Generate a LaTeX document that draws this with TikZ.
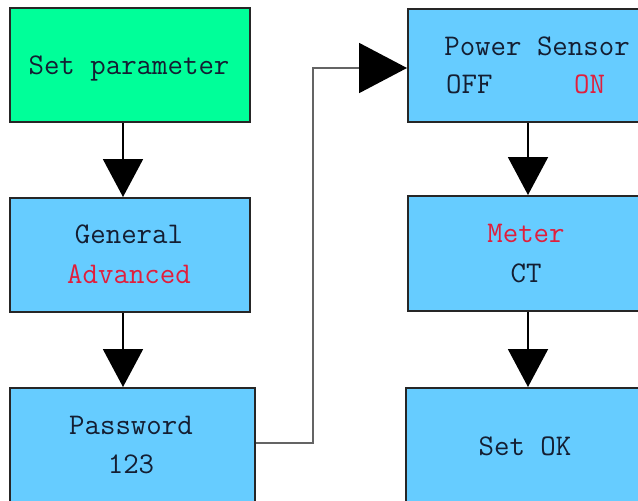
\documentclass[tikz,border=0pt]{standalone}
\usetikzlibrary{arrows.meta}
\definecolor{boxgreen}{RGB}{0,255,153}
\definecolor{boxblue}{RGB}{102,204,255}
\definecolor{txtdark}{RGB}{20,30,50}
\definecolor{txtred}{RGB}{225,30,60}
\definecolor{edgegray}{RGB}{100,100,100}
\begin{document}
\begin{tikzpicture}[x=1pt,y=-1pt,
  box/.style={draw=black!85, line width=2pt, rectangle, anchor=north west, inner sep=0pt, fill=boxblue},
  lbl/.style={anchor=base, inner sep=0pt, text=txtdark, font=\fontsize{30}{40}\selectfont\ttfamily},
  conn/.style={draw=black, line width=2pt, -{Triangle[width=40pt,length=38pt]}},
  elbowconn/.style={draw=edgegray, line width=2pt, -{Triangle[width=50pt,length=48pt,color=black]}}]
\useasboundingbox (0,0) rectangle (638,501);
\clip (0,0) rectangle (638,501);
% boxes
\node[box, fill=boxgreen, minimum width=240pt, minimum height=114pt] (b1) at (9,7) {};
\node[box, minimum width=240pt, minimum height=114pt] (b2) at (9,197) {};
\node[box, minimum width=245pt, minimum height=116pt] (b3) at (9,387) {};
\node[box, minimum width=240pt, minimum height=113pt] (b4) at (407,8) {};
\node[box, minimum width=240pt, minimum height=115pt] (b5) at (407,195) {};
\node[box, minimum width=242pt, minimum height=116pt] (b6) at (405,387) {};
% texts
\node[lbl] (t1) at (129,74) {Set parameter};
\node[lbl] (t2a) at (129,243) {General};
\node[lbl, text=txtred] (t2b) at (129,283) {Advanced};
\node[lbl] (t3a) at (131,434) {Password};
\node[lbl] (t3b) at (131,473) {123};
\node[lbl] (t4a) at (537,55) {Power Sensor};
\node[lbl, anchor=base west] (t4b) at (446,93) {OFF};
\node[lbl, anchor=base west, text=txtred] (t4c) at (574,93) {ON};
\node[lbl, text=txtred] (t5a) at (526,242) {Meter};
\node[lbl] (t5b) at (526,282) {CT};
\node[lbl] (t6) at (525,455) {Set OK};
% connectors
\draw[conn] ([xshift=114pt]b1.south west) -- ([xshift=114pt]b2.north west);
\draw[conn] ([xshift=114pt]b2.south west) -- ([xshift=114pt]b3.north west);
\draw[conn] ([xshift=121pt]b4.south west) -- ([xshift=121pt]b5.north west);
\draw[conn] ([xshift=121pt]b5.south west) -- ([xshift=123pt]b6.north west);
\coordinate (elb) at (313,0);
\coordinate (pin) at ([yshift=-2.5pt]b4.west);
\draw[elbowconn] ([yshift=3pt]b3.east) -| (elb |- pin) -- (pin);
\end{tikzpicture}
\end{document}
